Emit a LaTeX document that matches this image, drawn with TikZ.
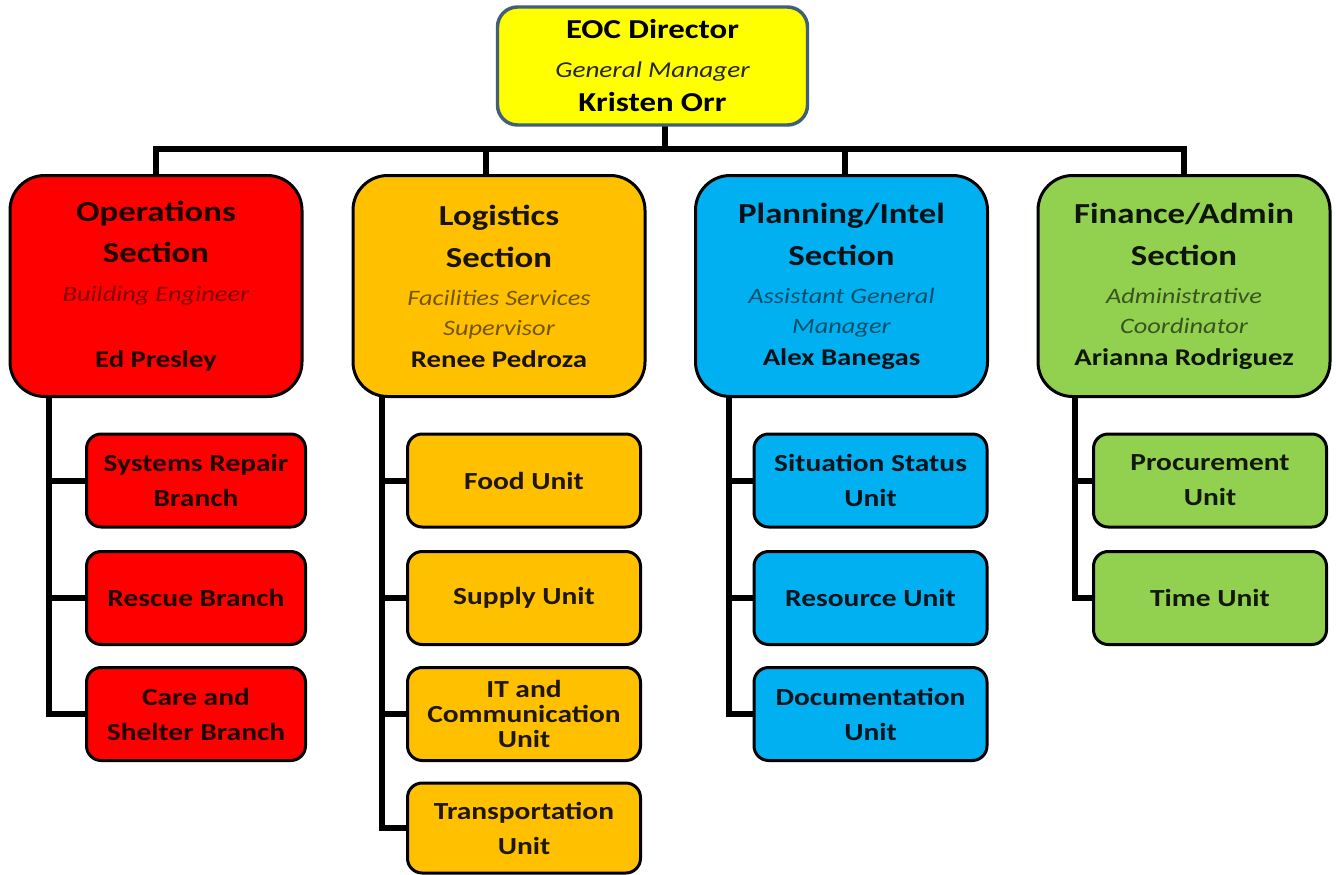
\documentclass[tikz,border=0pt]{standalone}
\usepackage{fontspec}
\setmainfont{Carlito}[FakeStretch=1.2]
\usetikzlibrary{backgrounds}

\definecolor{eocyellow}{RGB}{255,255,0}
\definecolor{eocedge}{RGB}{65,95,120}
\definecolor{opsred}{RGB}{255,0,0}
\definecolor{loggold}{RGB}{255,192,0}
\definecolor{planblue}{RGB}{0,176,240}
\definecolor{fingreen}{RGB}{146,208,80}

% line fonts used inside the section boxes
\newcommand{\rolefont}{\fontsize{16.5pt}{22.5pt}\selectfont\mdseries\itshape}
\newcommand{\namefont}{\fontsize{18pt}{22.5pt}\selectfont\bfseries}

\tikzset{
  conn/.style={line width=4.5pt, line cap=rect, line join=miter},
  headbox/.style={draw=eocedge, line width=2.6pt, fill=eocyellow,
    rounded corners=15pt, minimum width=232.5pt, minimum height=88.5pt,
    inner sep=0pt, align=center, font=\bfseries\fontsize{20.5pt}{25.5pt}\selectfont},
  secbox/.style={draw=black, line width=2.25pt, rounded corners=26pt,
    minimum width=219pt, minimum height=165.75pt, inner sep=0pt,
    align=center, font=\bfseries\fontsize{21.75pt}{22.5pt}\selectfont},
  unitbox/.style={draw=black, line width=2.25pt, rounded corners=11pt,
    minimum width=174.75pt, minimum height=69.75pt, inner sep=0pt,
    align=center, font=\bfseries\fontsize{18.4pt}{26.25pt}\selectfont},
  opsunit/.style={unitbox, fill=opsred, text=opsred!12!black, minimum width=164.25pt},
  logunit/.style={unitbox, fill=loggold, text=loggold!12!black},
  planunit/.style={unitbox, fill=planblue, text=planblue!12!black},
  finunit/.style={unitbox, fill=fingreen, text=fingreen!12!black},
}

\begin{document}
\begin{tikzpicture}[x=0.75pt, y=-0.75pt]
  \useasboundingbox (0,0) rectangle (1336,875);

  % director
  \node[headbox] (eoc) at (652.5,66)
    {EOC Director\\[3.75pt]{\fontsize{17pt}{22pt}\selectfont\mdseries\itshape\color{black!85}General Manager}\\Kristen Orr};

  % sections
  \node[secbox, fill=opsred, text=opsred!12!black] (ops) at (156,286)
    {Operations\\[8.25pt]Section\\[6.75pt]{\rolefont\color{opsred!52!black}Building Engineer}\\[27pt]{\namefont Ed Presley}};
  \node[secbox, fill=loggold, text=loggold!10!black] (log) at (499,286)
    {Logistics\\[9pt]Section\\[6pt]{\rolefont\color{loggold!45!black}Facilities Services}\\{\rolefont\color{loggold!45!black}Supervisor}\\[1.5pt]{\namefont Renee Pedroza}};
  \node[secbox, fill=planblue, text=planblue!10!black] (plan) at (841.5,286)
    {Planning/Intel\\[9pt]Section\\[6pt]{\rolefont\color{planblue!45!black}Assistant General}\\{\rolefont\color{planblue!45!black}Manager}\\[1.5pt]{\namefont Alex Banegas}};
  \node[secbox, fill=fingreen, text=fingreen!10!black] (fin) at (1184,286)
    {Finance/Admin\\[9pt]Section\\[6pt]{\rolefont\color{fingreen!40!black}Administrative}\\{\rolefont\color{fingreen!40!black}Coordinator}\\[1.5pt]{\namefont Arianna Rodriguez}};

  % operations branches
  \node[opsunit] (opsA) at (196,480.5) {Systems Repair\\Branch};
  \node[opsunit] (opsB) at (196,598) {Rescue Branch};
  \node[opsunit] (opsC) at (196,714) {Care and\\Shelter Branch};

  % logistics units
  \node[logunit] (logA) at (524,480.5) {Food Unit};
  \node[logunit] (logB) at (524,598) {Supply Unit};
  \node[logunit] (logC) at (524,714) {IT and\\[-7.5pt]Communication\\[-7.5pt]Unit};
  \node[logunit, minimum height=67.5pt] (logD) at (524,828) {Transportation\\Unit};

  % planning units
  \node[planunit] (planA) at (870.5,480.5) {Situation Status\\Unit};
  \node[planunit] (planB) at (870.5,598) {Resource Unit};
  \node[planunit] (planC) at (870.5,714) {Documentation\\Unit};

  % finance units
  \node[finunit] (finA) at (1210,480.5) {Procurement\\Unit};
  \node[finunit] (finB) at (1210,598) {Time Unit};

  \begin{scope}[on background layer]
    % white page under everything
    \fill[white] (0,0) rectangle (1336,875);

    % director to the section bus
    \coordinate (bus) at (0,149);
    \coordinate (eocdrop) at ([shift={(12,0)}]eoc.south);
    \coordinate (logdrop) at ([shift={(-13,0)}]log.north);
    \coordinate (plandrop) at ([shift={(3.5,0)}]plan.north);
    \draw[conn] (eocdrop) -- (eocdrop |- bus);
    \draw[conn] (ops.north |- bus) -- (fin.north |- bus);
    \draw[conn] (ops.north |- bus) -- (ops.north);
    \draw[conn] (logdrop |- bus) -- (logdrop);
    \draw[conn] (plandrop |- bus) -- (plandrop);
    \draw[conn] (fin.north |- bus) -- (fin.north);

    % spines from each section down to its units
    \coordinate (opsspine) at ([shift={(40,0)}]ops.south west);
    \coordinate (logspine) at ([shift={(30,0)}]log.south west);
    \coordinate (planspine) at ([shift={(34.5,0)}]plan.south west);
    \coordinate (finspine) at ([shift={(38,0)}]fin.south west);
    \foreach \u in {opsA,opsB,opsC} \draw[conn] (opsspine) |- (\u.west);
    \foreach \u in {logA,logB,logC,logD} \draw[conn] (logspine) |- (\u.west);
    \foreach \u in {planA,planB,planC} \draw[conn] (planspine) |- (\u.west);
    \foreach \u in {finA,finB} \draw[conn] (finspine) |- (\u.west);
  \end{scope}
\end{tikzpicture}
\end{document}
